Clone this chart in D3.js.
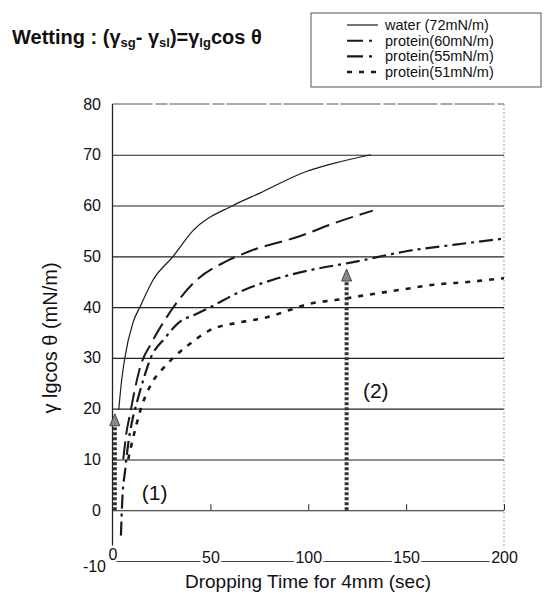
<!DOCTYPE html>
<html>
<head>
<meta charset="utf-8">
<script src="https://cdn.jsdelivr.net/npm/d3@7"></script>
<style>
  body { margin: 0; background: #fff; }
  text { font-family: "Liberation Sans", Arial, sans-serif; fill: #111; }
</style>
</head>
<body>
<div id="chart"></div>
<script>
const width = 545;
const height = 597;

// axis ticks
const xTicks = [0, 50, 100, 150, 200];
const yTicks = [-10, 0, 10, 20, 30, 40, 50, 60, 70, 80];
const gridValues = [0, 10, 20, 30, 40, 50, 60, 70];

// series: [time (sec), gamma lg cos theta (mN/m)]
const water = [[3.2, 19.8], [4.5, 25], [6.3, 30], [10.5, 37], [14, 40], [20.8, 45.4], [31, 50], [41, 55],
    [61.5, 60], [75, 62.4], [99, 66.7], [113, 68.3], [132, 70]];
const protein60 = [[5.5, 10], [7, 15], [9, 19], [11, 23], [14, 28], [20, 33], [26, 37], [34, 41.5], [42, 45],
    [58, 49], [70, 51], [96, 54], [113, 56.5], [133, 59]];
const protein55 = [[4.3, -5], [5, 2], [6.5, 8], [8, 13], [10, 17.5], [13, 22], [16, 26], [19, 29.5], [27, 34],
    [34, 37], [42, 38.5], [50, 40], [65, 43], [82, 45.4], [100, 47.2], [125, 49], [150, 51], [175, 52.3], [200, 53.5]];
const protein51 = [[8, 10], [11, 15], [14.5, 20], [20, 25], [26, 28], [31, 30], [38, 32.3], [50, 35.5], [65, 37],
    [79, 38], [91, 39.5], [99, 40.5], [116, 41.5], [130, 42.4], [147, 43.4], [164, 44.4], [183, 45], [200, 45.7]];

const seriesNames = ['water (72mN/m)', 'protein(60mN/m)', 'protein(55mN/m)', 'protein(51mN/m)'];
const seriesData = [water, protein60, protein55, protein51];

// arrows: x, from y, to y, label
const arrowX = [1.2, 119.6];
const arrowFrom = [0, 0];
const arrowTo = [19, 47.5];
const arrowLabels = ['(1)', '(2)'];
const labelPos = [[21.5, 3.5], [134.5, 23.5]];

const styles = [
    { dash: null, w: 1.2, legendDash: null },
    { dash: '18,7', w: 2, legendDash: '16,6,3,6' },
    { dash: '14,5,3,5', w: 2.2, legendDash: '16,6,3,6' },
    { dash: '5,7', w: 2.6, legendDash: '5,7' }
];

const svg = d3.select('#chart').append('svg')
    .attr('width', width)
    .attr('height', height);

const x = d3.scaleLinear().domain([0, 200]).range([112.5, 504]);
const y = d3.scaleLinear().domain([-10, 80]).range([561, 104]);

// grid lines
svg.append('g')
    .attr('transform', `translate(${x(0)},0)`)
    .call(d3.axisLeft(y).tickValues(gridValues).tickSize(-(x(200) - x(0))).tickFormat(''))
    .call(g => g.select('.domain').remove())
    .call(g => g.selectAll('.tick line').attr('stroke', '#222').attr('stroke-width', 1.1));

// y labels
svg.append('g')
    .selectAll('text')
    .data(yTicks)
    .join('text')
    .attr('x', d => d === -10 ? 106 : 101)
    .attr('y', d => y(d) + (d === -10 ? 5 : 0))
    .attr('dy', '0.35em')
    .attr('text-anchor', 'end')
    .style('font-size', '16px')
    .text(d => d);

// top border and right border
svg.append('line')
    .attr('x1', x(0)).attr('x2', x(200)).attr('y1', y(80)).attr('y2', y(80))
    .attr('stroke', '#555').attr('stroke-width', 1).attr('stroke-dasharray', '40,3,12,2');
svg.append('line')
    .attr('x1', x(200)).attr('x2', x(200)).attr('y1', y(80)).attr('y2', y(-10))
    .attr('stroke', '#999').attr('stroke-width', 1).attr('stroke-dasharray', '2,2');

// left axis line
svg.append('line')
    .attr('x1', x(0)).attr('x2', x(0)).attr('y1', y(80)).attr('y2', y(-10))
    .attr('stroke', '#222').attr('stroke-width', 1.3);

// small ticks on the zero line
svg.append('g')
    .attr('transform', `translate(0,${y(0)})`)
    .call(d3.axisTop(x).tickValues([50, 100, 150, 200]).tickSize(6).tickFormat(''))
    .call(g => g.select('.domain').remove())
    .call(g => g.selectAll('.tick line').attr('stroke', '#222'));

// bottom axis with labels sitting on the line
svg.append('g')
    .attr('transform', `translate(0,${y(-10)})`)
    .call(d3.axisBottom(x).tickValues(xTicks).tickSize(0).tickSizeOuter(0))
    .call(g => g.select('.domain').attr('stroke', '#444').attr('stroke-width', 1))
    .call(g => g.selectAll('.tick text')
        .attr('y', 0)
        .attr('dy', '0.1em')
        .attr('transform', d => d === 0 ? 'translate(0,-3)' : null)
        .style('font-size', '16px')
        .style('font-family', '"Liberation Sans", Arial, sans-serif')
        .attr('fill', '#111')
        .attr('stroke', '#fff')
        .attr('stroke-width', 5)
        .attr('paint-order', 'stroke'));

// curves
const line = d3.line()
    .x(d => x(d[0]))
    .y(d => y(d[1]))
    .curve(d3.curveMonotoneX);

seriesData.forEach((data, i) => {
    svg.append('path')
        .datum(data)
        .attr('d', line)
        .attr('fill', 'none')
        .attr('stroke', '#1a1a1a')
        .attr('stroke-width', styles[i].w)
        .attr('stroke-dasharray', styles[i].dash);
});

// dotted arrows
arrowX.forEach((ax, i) => {
    const tipY = y(arrowTo[i]);
    svg.append('line')
        .attr('x1', x(ax)).attr('x2', x(ax))
        .attr('y1', y(arrowFrom[i])).attr('y2', tipY + 10)
        .attr('stroke', '#333').attr('stroke-width', 4)
        .attr('stroke-dasharray', '3,2');
    svg.append('path')
        .attr('d', `M${x(ax)},${tipY} L${x(ax) - 5},${tipY + 12} L${x(ax) + 5},${tipY + 12} Z`)
        .attr('fill', '#888').attr('stroke', '#444').attr('stroke-width', 1);
    svg.append('text')
        .attr('x', x(labelPos[i][0]))
        .attr('y', y(labelPos[i][1]))
        .attr('dy', '0.35em')
        .attr('text-anchor', 'middle')
        .style('font-size', '21px')
        .text(arrowLabels[i]);
});

// axis titles
svg.append('text')
    .attr('transform', 'translate(50,338) rotate(-90)')
    .attr('text-anchor', 'middle')
    .attr('dy', '0.35em')
    .style('font-size', '20px')
    .text('γ lgcos θ (mN/m)');

svg.append('text')
    .attr('x', 308).attr('y', 588)
    .attr('text-anchor', 'middle')
    .style('font-size', '19px')
    .text('Dropping Time for 4mm (sec)');

// title with subscripts
const title = svg.append('text')
    .attr('x', 12).attr('y', 44)
    .style('font-size', '20px')
    .style('font-weight', 'bold');
title.append('tspan').text('Wetting  : (γ');
title.append('tspan').attr('baseline-shift', '-25%').style('font-size', '13px').text('sg');
title.append('tspan').text('- γ');
title.append('tspan').attr('baseline-shift', '-25%').style('font-size', '13px').text('sl');
title.append('tspan').text(')=γ');
title.append('tspan').attr('baseline-shift', '-25%').style('font-size', '13px').text('lg');
title.append('tspan').text('cos θ');

// legend
const legend = svg.append('g');
legend.append('rect')
    .attr('x', 311).attr('y', 13).attr('width', 230).attr('height', 74)
    .attr('fill', 'none').attr('stroke', '#555').attr('stroke-width', 1);
const rowY = d3.scalePoint().domain(seriesNames).range([25, 72]);
seriesNames.forEach((name, i) => {
    const ly = rowY(name);
    legend.append('line')
        .attr('x1', 347).attr('x2', 378).attr('y1', ly).attr('y2', ly)
        .attr('stroke', '#1a1a1a')
        .attr('stroke-width', i === 0 ? 1.2 : styles[i].w)
        .attr('stroke-dasharray', styles[i].legendDash);
    legend.append('text')
        .attr('x', 385).attr('y', ly)
        .attr('dy', '0.35em')
        .style('font-size', '14.5px')
        .text(name);
});
</script>
</body>
</html>
